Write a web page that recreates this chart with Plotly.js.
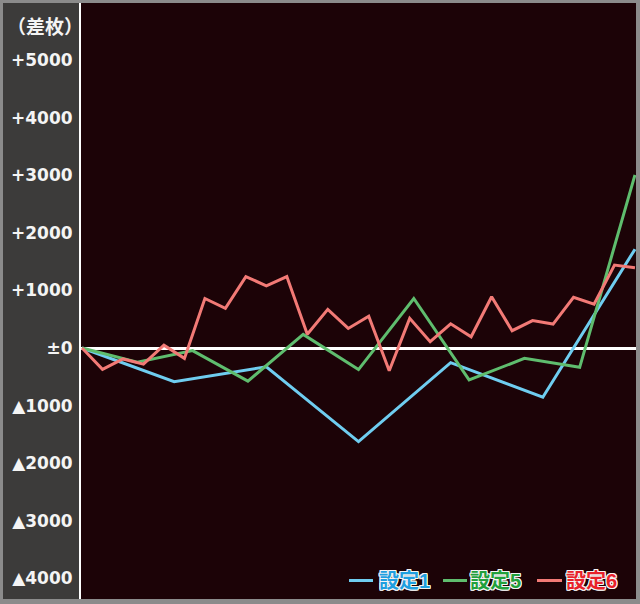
<!DOCTYPE html>
<html>
<head>
<meta charset="utf-8">
<script src="https://cdn.plot.ly/plotly-3.0.1.min.js"></script>
<style>
  html, body { margin: 0; padding: 0; background: #8b8b8b; width: 640px; height: 604px; overflow: hidden; }
  #chart { position: absolute; left: 3px; top: 3px; width: 633px; height: 596px; }
</style>
</head>
<body>
<div id="chart"></div>
<script>
// Series data (x = play-step index, y = coin difference)
const seriesNames = ["設定1", "設定5", "設定6"];
const blueX = [0, 4.5, 9, 13.5, 18, 22.5, 27];
const blueY = [0, -585, -325, -1625, -255, -855, 1715];
const greenX = [0, 2.7, 5.4, 8.1, 10.8, 13.5, 16.2, 18.9, 21.6, 24.3, 27];
const greenY = [0, -245, -45, -575, 235, -375, 860, -555, -180, -335, 3005];
const redX = [0, 1, 2, 3, 4, 5, 6, 7, 8, 9, 10, 11, 12, 13, 14, 15, 16, 17, 18, 19, 20, 21, 22, 23, 24, 25, 26, 27];
const redY = [0, -370, -190, -280, 50, -180, 860, 690, 1240, 1080, 1240, 240, 670, 340, 550, -395, 515, 110, 420, 195, 890, 300, 475, 415, 880, 760, 1440, 1395];

const tickVals = [5000, 4000, 3000, 2000, 1000, 0, -1000, -2000, -3000, -4000];
const tickText = ["+5000", "+4000", "+3000", "+2000", "+1000", "±0", "▲1000", "▲2000", "▲3000", "▲4000"];
const unitLabel = "（差枚）";

const lineColors = ["#6fcdf0", "#5fbd6e", "#f27a76"];
const textColors = ["#1f9fe0", "#22a03c", "#e8222a"];

// legend item placement (paper fractions of the plot area)
const legendLineX0 = [0.4829, 0.6523, 0.8216];
const legendLineX1 = [0.5261, 0.6955, 0.8667];
const legendTextX = [0.5330, 0.6970, 0.8700];
const legendY = 0.031;

const tickFam = "'DejaVu Sans', 'Liberation Sans', sans-serif";
const cjkFam = "'Liberation Sans', 'Noto Sans CJK JP', sans-serif";
const outline = "-1px -1px 0 #f4f4f4, 1px -1px 0 #f4f4f4, -1px 1px 0 #f4f4f4, 1px 1px 0 #f4f4f4, 0 1px 0 #f4f4f4, 0 -1px 0 #f4f4f4, 1px 0 0 #f4f4f4, -1px 0 0 #f4f4f4";

const traces = [
  { x: blueX, y: blueY, name: seriesNames[0], mode: "lines", line: { color: lineColors[0], width: 3 }, hoverinfo: "skip" },
  { x: greenX, y: greenY, name: seriesNames[1], mode: "lines", line: { color: lineColors[1], width: 3 }, hoverinfo: "skip" },
  { x: redX, y: redY, name: seriesNames[2], mode: "lines", line: { color: lineColors[2], width: 3 }, hoverinfo: "skip" }
];

const shapes = [];
const annotations = [
  {
    text: unitLabel,
    xref: "paper", x: 0, xanchor: "right", xshift: 4,
    yref: "y", y: 5570, yanchor: "middle",
    showarrow: false,
    font: { family: cjkFam, size: 19, color: "#f4f4f4", weight: "bold" }
  }
];
for (let i = 0; i < seriesNames.length; i++) {
  shapes.push({
    type: "line", xref: "paper", yref: "paper",
    x0: legendLineX0[i], x1: legendLineX1[i], y0: legendY, y1: legendY,
    line: { color: lineColors[i], width: 3 }
  });
  annotations.push({
    text: seriesNames[i],
    xref: "paper", x: legendTextX[i], xanchor: "left",
    yref: "paper", y: legendY, yanchor: "middle",
    showarrow: false,
    font: { family: cjkFam, size: 20, weight: "bold", color: textColors[i], shadow: outline }
  });
}

const layout = {
  width: 633,
  height: 596,
  margin: { l: 78, r: 0, t: 0, b: 0, pad: 0 },
  paper_bgcolor: "#3c3b3a",
  plot_bgcolor: "#1c0307",
  showlegend: false,
  xaxis: {
    range: [-0.05, 27.05],
    showgrid: false, zeroline: false, showline: false,
    showticklabels: false, ticks: "", fixedrange: true
  },
  yaxis: {
    range: [-4358, 5990],
    tickmode: "array",
    tickvals: tickVals,
    ticktext: tickText,
    ticks: "",
    ticklabelstandoff: 3,
    tickfont: { family: tickFam, size: 17, color: "#f4f4f4", weight: "bold" },
    showgrid: false,
    zeroline: true, zerolinecolor: "#ffffff", zerolinewidth: 3,
    showline: true, linecolor: "#ffffff", linewidth: 2,
    fixedrange: true
  },
  shapes: shapes,
  annotations: annotations
};

Plotly.newPlot("chart", traces, layout, { displayModeBar: false, staticPlot: true });
</script>
</body>
</html>
